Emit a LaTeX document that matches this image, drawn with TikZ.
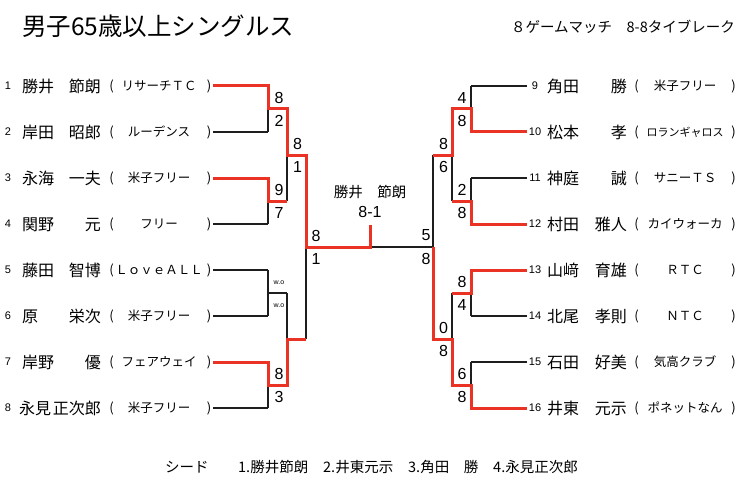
\documentclass[tikz,border=0pt]{standalone}
\usepackage{fontspec}
\setmainfont{Noto Sans CJK JP}
\newfontfamily\latfont{Liberation Sans}
\newcommand\myfs[1]{\fontsize{#1}{#1}\selectfont}
\newcommand\clubsmall{\fontsize{11}{11}\selectfont}
\definecolor{winred}{RGB}{234,51,36}
\definecolor{wireblack}{RGB}{30,30,30}
\begin{document}
\begin{tikzpicture}[x=1pt,y=-1pt,
  wire/.style={line width=1.1pt, wireblack},
  win/.style={line width=3pt, winred, line join=miter},
  pnum/.style={font=\latfont\myfs{11}, inner sep=0},
  pname/.style={font=\myfs{16}, inner sep=0, text height=14.1pt, text depth=1.9pt},
  paren/.style={font=\myfs{13}, inner sep=0},
  club/.style={font=\myfs{12.5}, inner sep=0, text height=11pt, text depth=1.5pt},
  score/.style={font=\latfont\myfs{16}, inner sep=0},
  wo/.style={font=\latfont\myfs{7}, inner sep=0},
  seed/.style={font=\myfs{14.5}, inner sep=0, anchor=west, text height=12.8pt, text depth=1.7pt}]
\fill[white] (0,0) rectangle (740,487);
\useasboundingbox (0,0) rectangle (740,487);

% headings
\node[font=\myfs{24.5}, anchor=west, inner sep=0] (title) at (22,26) {男子65歳以上シングルス};
\node[font=\myfs{14.5}, anchor=east, inner sep=0] (rule) at (735,27) {８ゲームマッチ　8-8タイブレーク};

% coordinates
\foreach \i in {1,...,8}{
  \pgfmathsetmacro\yy{86+46*(\i-1)}
  \coordinate (a\i) at (213,\yy);
  \coordinate (b\i) at (268,\yy);
}
\foreach \i in {9,...,16}{
  \pgfmathsetmacro\yy{86+46*(\i-9)}
  \coordinate (A\i) at (527,\yy);
  \coordinate (B\i) at (471,\yy);
}
\foreach \k/\yy in {1/109,2/201,3/293,4/385}{
  \coordinate (c\k) at (268,\yy);
  \coordinate (d\k) at (287,\yy);
  \coordinate (C\k) at (471,\yy);
  \coordinate (D\k) at (452,\yy);
}
\coordinate (e1) at (287,155); \coordinate (f1) at (306,155);
\coordinate (e2) at (287,339); \coordinate (f2) at (306,339);
\coordinate (E1) at (452,155); \coordinate (F1) at (433,155);
\coordinate (E2) at (452,339); \coordinate (F2) at (433,339);
\coordinate (g) at (306,247); \coordinate (h) at (370,247);
\coordinate (hc) at (370,225); \coordinate (k) at (433,247);

% black bracket
\foreach \i in {1,...,8} \draw[wire] (a\i) -- (b\i);
\foreach \i in {9,...,16} \draw[wire] (A\i) -- (B\i);
\draw[wire] (b1)--(b2) (b3)--(b4) (b5)--(b6) (b7)--(b8);
\draw[wire] (B9)--(B10) (B11)--(B12) (B13)--(B14) (B15)--(B16);
\foreach \k in {1,...,4} \draw[wire] (c\k)--(d\k) (C\k)--(D\k);
\draw[wire] (d1)--(d2) (d3)--(d4) (D1)--(D2) (D3)--(D4);
\draw[wire] (e1)--(f1) (e2)--(f2) (E1)--(F1) (E2)--(F2);
\draw[wire] (f1)--(f2) (F1)--(F2);
\draw[wire] (g)--(k);

% winners
\draw[win] (a1)--(b1)--(c1)--(d1)--(e1)--(f1)--(g)--(h)--(hc);
\draw[win] (a3)--(b3)--(c2)--(d2);
\draw[win] (a7)--(b7)--(c4)--(d4)--(e2)--(f2);
\draw[win] (A10)--(B10)--(C1)--(D1)--(E1)--(F1);
\draw[win] (A12)--(B12)--(C2)--(D2);
\draw[win] (A13)--(B13)--(C3)--(D3);
\draw[win] (A16)--(B16)--(C4)--(D4)--(E2)--(F2)--(k);

% players left
\foreach \i/\fx/\fam/\giv/\club in {1/22/勝井/節朗/リサーチＴＣ, 2/22/岸田/昭郎/ルーデンス, 3/22/永海/一夫/米子フリー, 4/22/関野/元/フリー, 5/22/藤田/智博/ＬｏｖｅＡＬＬ, 6/22/原/栄次/米子フリー, 7/22/岸野/優/フェアウェイ, 8/19/永見/正次郎/米子フリー}{
  \pgfmathsetmacro\yy{86+46*(\i-1)}
  \node[pnum] (num\i) at (8,\yy) {\i};
  \node[pname, anchor=west] (fam\i) at (\fx,\yy) {\fam};
  \node[pname, anchor=east] (giv\i) at (101,\yy) {\giv};
  \node[paren] (po\i) at (111.5,\yy) {(};
  \node[club] (club\i) at (159,\yy) {\club};
  \node[paren] (pc\i) at (209,\yy) {)};
}
% players right
\foreach \i/\fam/\giv/\club in {9/角田/勝/米子フリー, 10/松本/孝/{\clubsmall ロランギャロス}, 11/神庭/誠/サニーＴＳ, 12/村田/雅人/カイウォーカ, 13/山﨑/育雄/ＲＴＣ, 14/北尾/孝則/ＮＴＣ, 15/石田/好美/気高クラブ, 16/井東/元示/ポネットなん}{
  \pgfmathsetmacro\yy{86+46*(\i-9)}
  \node[pnum] (num\i) at (535,\yy) {\i};
  \node[pname, anchor=west] (fam\i) at (547,\yy) {\fam};
  \node[pname, anchor=east] (giv\i) at (627,\yy) {\giv};
  \node[paren] (po\i) at (636.5,\yy) {(};
  \node[club] (club\i) at (685,\yy) {\club};
  \node[paren] (pc\i) at (733.5,\yy) {)};
}

% scores left
\node[score] (sl1a) at (279,97.5) {8};  \node[score] (sl1b) at (279,121) {2};
\node[score] (sl2a) at (279,189.5) {9}; \node[score] (sl2b) at (279,213) {7};
\node[wo] (wo1) at (279,283) {w.o};     \node[wo] (wo2) at (279,306) {w.o};
\node[score] (sl4a) at (279,373.5) {8}; \node[score] (sl4b) at (279,397) {3};
\node[score] (ql1a) at (297.5,143.5) {8}; \node[score] (ql1b) at (297.5,167) {1};
\node[score] (fl1a) at (316,235.5) {8};   \node[score] (fl1b) at (316,259) {1};
% scores right
\node[score] (sr1a) at (462,97.5) {4};  \node[score] (sr1b) at (462,121) {8};
\node[score] (sr2a) at (462,189.5) {2}; \node[score] (sr2b) at (462,213) {8};
\node[score] (sr3a) at (462,281.5) {8}; \node[score] (sr3b) at (462,305) {4};
\node[score] (sr4a) at (462,373.5) {6}; \node[score] (sr4b) at (462,397) {8};
\node[score] (qr1a) at (443.5,143.5) {8}; \node[score] (qr1b) at (443.5,167) {6};
\node[score] (qr2a) at (443.5,327.5) {0}; \node[score] (qr2b) at (443.5,351) {8};
\node[score] (fr1a) at (426,235.5) {5};   \node[score] (fr1b) at (426,259) {8};

% champion
\node[font=\myfs{14.5}, inner sep=0] (champ) at (370,192) {勝井　節朗};
\node[score] (final) at (370,212) {8-1};

% seeds
\node[seed] (s0) at (165,467) {シード};
\node[seed] (s1) at (238,467) {1.勝井節朗};
\node[seed] (s2) at (323,467) {2.井東元示};
\node[seed] (s3) at (408,467) {3.角田　勝};
\node[seed] (s4) at (493,467) {4.永見正次郎};
\end{tikzpicture}
\end{document}
